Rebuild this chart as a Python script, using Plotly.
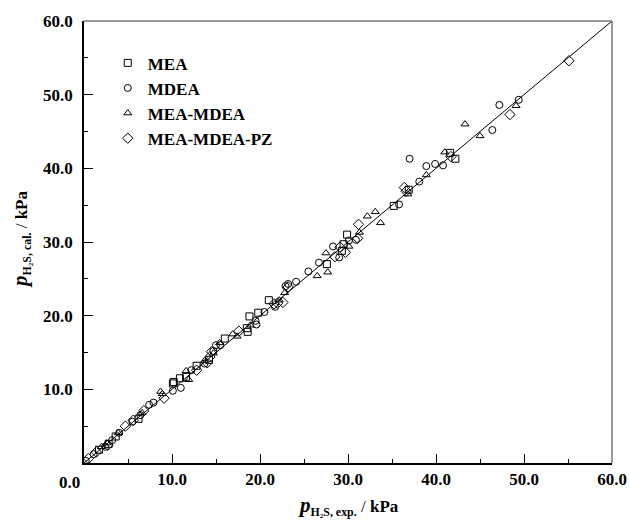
import plotly.graph_objects as go

# ---- data ----
mea_x = [1.7, 2.8, 3.6, 6.2, 10.1, 10.2, 10.9, 11.6, 12.8, 14.2, 16.0, 18.5, 18.6, 18.8, 19.8, 21.0,
         27.6, 29.3, 29.5, 29.9, 35.2, 36.9, 41.6, 42.2]
mea_y = [1.8, 2.6, 3.6, 6.0, 10.8, 11.0, 11.5, 11.7, 13.2, 14.0, 16.9, 18.3, 17.8, 19.9, 20.4, 22.1,
         27.0, 28.8, 29.7, 31.0, 34.9, 37.1, 42.1, 41.3]

mdea_x = [0.2, 1.1, 2.4, 3.2, 4.0, 5.5, 6.4, 7.4, 7.9, 10.1, 11.0, 12.2, 13.7, 14.7, 15.0, 15.5,
          19.5, 19.6, 20.5, 21.7, 22.9, 23.2, 24.1, 25.5, 26.7, 28.3, 29.0, 30.1, 30.9, 35.8,
          37.0, 38.1, 38.9, 39.9, 40.8, 46.4, 47.2, 49.4]
mdea_y = [0.3, 1.2, 2.2, 3.1, 4.1, 5.6, 6.5, 7.9, 8.2, 9.8, 10.2, 12.6, 13.5, 15.2, 16.0, 16.0,
          19.3, 18.8, 20.5, 21.2, 24.0, 24.3, 24.6, 26.0, 27.2, 29.4, 27.9, 30.2, 30.3, 35.1,
          41.3, 38.2, 40.3, 40.6, 40.4, 45.2, 48.6, 49.3]

mix_x = [2.0, 2.6, 3.9, 6.6, 8.7, 8.9, 11.6, 11.9, 13.7, 14.7, 15.4, 16.9, 17.4, 18.9, 22.2, 22.8,
         26.5, 27.7, 27.5, 30.1, 31.3, 32.2, 33.1, 33.7, 36.8, 38.9, 41.0, 43.3, 45.0, 49.1]
mix_y = [2.2, 2.7, 4.1, 6.8, 9.7, 9.4, 12.5, 11.3, 13.9, 14.9, 16.3, 17.5, 17.2, 18.7, 22.1, 23.1,
         25.4, 25.9, 28.5, 29.4, 31.3, 33.5, 34.1, 32.6, 36.5, 39.1, 42.2, 46.0, 44.4, 48.5]

pz_x = [0.5, 1.4, 2.7, 4.7, 5.6, 6.8, 9.1, 12.8, 14.0, 14.3, 14.5, 17.6, 21.6, 22.0, 22.6, 23.2,
        28.5, 29.1, 29.7, 31.1, 31.2, 36.4, 36.6, 41.7, 48.4, 55.1]
pz_y = [0.6, 1.5, 2.4, 5.0, 5.8, 7.1, 8.8, 12.6, 13.6, 14.4, 15.1, 17.9, 21.6, 21.7, 21.8, 23.9,
        28.0, 29.3, 28.6, 30.5, 32.4, 37.4, 36.9, 41.6, 47.3, 54.6]

series_names = ["MEA", "MDEA", "MEA-MDEA", "MEA-MDEA-PZ"]
parity_x = [0, 60]
parity_y = [0, 60]

tick_vals = [10, 20, 30, 40, 50, 60]
tick_text = ["10.0", "20.0", "30.0", "40.0", "50.0", "60.0"]

FONT = "Liberation Serif, Times New Roman, serif"
FS = 17

fig = go.Figure()
fig.add_trace(go.Scatter(x=parity_x, y=parity_y, mode="lines",
                         line=dict(color="black", width=1), showlegend=False, hoverinfo="skip"))

symbols = ["square-open", "circle-open", "triangle-up-open", "diamond-open"]
sizes = [7, 7, 7, 8]
data = [(mea_x, mea_y), (mdea_x, mdea_y), (mix_x, mix_y), (pz_x, pz_y)]
for name, (xs, ys), sym, sz in zip(series_names, data, symbols, sizes):
    fig.add_trace(go.Scatter(x=xs, y=ys, mode="markers", name="<b>" + name + "</b>",
                             marker=dict(symbol=sym, size=sz, color="black",
                                         line=dict(color="black", width=1))))

axis_common = dict(
    range=[0, 60], tickvals=tick_vals, ticktext=["<b>" + t + "</b>" for t in tick_text],
    ticks="inside", ticklen=9, tickwidth=1, tickcolor="black",
    minor=dict(dtick=5, ticks="inside", ticklen=4, tickwidth=1, tickcolor="black"),
    showgrid=False, zeroline=False, showline=True, linecolor="black", linewidth=1.5,
    tickfont=dict(family=FONT, size=FS, color="black"), automargin=False,
)

fig.update_xaxes(**axis_common)
fig.update_yaxes(**axis_common, ticklabelstandoff=6)

P = '<span style="font-size:21px"><b><i>p</i></b></span>'
# axis titles
fig.add_annotation(text=P + "<sub><b>H₂S, exp.</b></sub> / <b>kPa</b>",
                   xref="paper", yref="paper", x=0.5, y=-0.098, yanchor="middle",
                   showarrow=False, font=dict(family=FONT, size=FS, color="black"))
fig.add_annotation(text=P + "<sub><b>H₂S, cal.</b></sub> / <b>kPa</b>",
                   xref="paper", yref="paper", x=-0.119, y=0.505, xanchor="center", yanchor="middle",
                   textangle=-90, showarrow=False, font=dict(family=FONT, size=FS, color="black"))

# gray top/right frame
fig.add_shape(type="line", xref="paper", yref="paper", x0=0, x1=1, y0=1, y1=1,
              line=dict(color="#777777", width=1.5))
fig.add_shape(type="line", xref="paper", yref="paper", x0=1, x1=1, y0=0, y1=1,
              line=dict(color="#777777", width=1.5))

fig.add_annotation(text="<b>0.0</b>", xref="x", yref="paper", x=0, y=0, yanchor="top",
                   xshift=-15, yshift=-8, showarrow=False,
                   font=dict(family=FONT, size=FS, color="black"))

fig.update_layout(
    width=630, height=521,
    margin=dict(l=84, r=18, t=21, b=58),
    paper_bgcolor="white", plot_bgcolor="white",
    showlegend=True,
    legend=dict(x=0.045, y=0.945, xanchor="left", yanchor="top",
                bgcolor="rgba(0,0,0,0)", font=dict(family=FONT, size=FS, color="black"),
                itemwidth=30, tracegroupgap=0),
)

fig.write_html("out.html")
